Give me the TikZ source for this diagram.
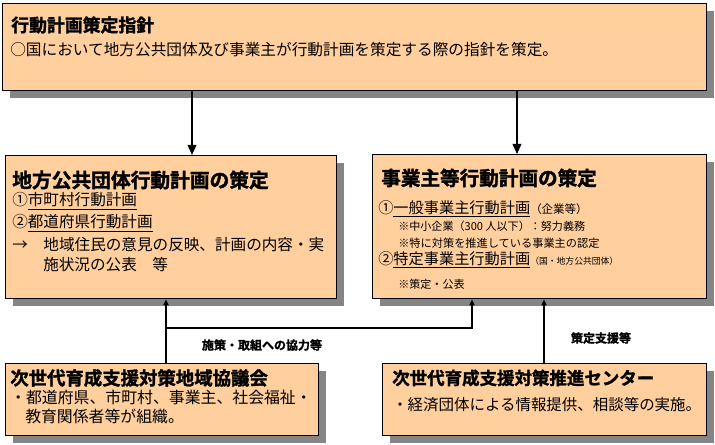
\documentclass[tikz,border=0pt]{standalone}
\usepackage{fontspec}
\setmainfont{Noto Sans CJK JP}[BoldFont={Noto Sans CJK JP Bold},
  BoldFeatures={FakeBold=1.5}]
\usepackage{tikz}
\usetikzlibrary{
  arrows.meta,
  shadows,
}
\definecolor{planFill}{HTML}{FFCF9E}
\definecolor{planShade}{HTML}{858585}
\tikzset{
  planbox/.style={
    rectangle, draw=black, line width=1.1pt, fill=planFill, inner sep=0pt,
    anchor=north west,
    drop shadow={shadow xshift=5.25pt, shadow yshift=-5.25pt,
      fill=planShade, opacity=1},
  },
  headTxt/.style={
    anchor=west, inner sep=0pt, font=\bfseries\fontsize{#1}{#1}\selectfont,
  },
  rowTxt/.style={
    anchor=west, inner sep=0pt, font=\fontsize{#1}{#1}\selectfont,
  },
  arrowBig/.style={
    -{Triangle[length=7.5pt,width=6.5pt]}, line width=1.1pt, draw=black,
  },
  arrowSm/.style={
    -{Triangle[length=4.5pt,width=4pt]}, line width=0.9pt, draw=black,
  },
  tagTxt/.style={
    inner sep=0pt, font=\bfseries\fontsize{9}{9}\selectfont,
  },
}

\begin{document}
\begin{tikzpicture}[x=0.75pt, y=-0.75pt]
\useasboundingbox (0,0) rectangle (715,445);

% boxes
\node[planbox, minimum width=528pt, minimum height=65.25pt] (guide) at (2,3) {};
\node[planbox, minimum width=248.25pt, minimum height=107.25pt] (localPlan) at (5,155) {};
\node[planbox, minimum width=250.5pt, minimum height=108pt] (firmPlan) at (372,154) {};
\node[planbox, minimum width=234.75pt, minimum height=54pt] (council) at (5,363) {};
\node[planbox, minimum width=243pt, minimum height=54pt] (center) at (382,363) {};

% texts
\node[headTxt=13.4] (guideT) at (11,25) {行動計画策定指針};
\node[rowTxt=11.75] (guideA) at (10,50)
  {○国において地方公共団体及び事業主が行動計画を策定する際の指針を策定。};

\node[headTxt=14.8] (localT) at (12,180) {地方公共団体行動計画の策定};
\node[rowTxt=11.7] (localA) at (12,201) {①\underline{市町村行動計画}};
\node[rowTxt=11.7] (localB) at (12,223) {②\underline{都道府県行動計画}};
\node[rowTxt=11.7] (localC) at (12,245)
  {\makebox[2em][l]{→}地域住民の意見の反映、計画の内容・実};
\node[rowTxt=11.7] (localD) at (43,265) {施状況の公表　等};

\node[headTxt=14.7] (firmT) at (381,178) {事業主等行動計画の策定};
\node[rowTxt=11.4] (firmA) at (378,209)
  {①\underline{一般事業主行動計画}{\fontsize{8.6}{8.6}\selectfont（企業等）}};
\node[rowTxt=8.3] (firmB) at (398,226) {※中小企業（300 人以下）：努力義務};
\node[rowTxt=8.4] (firmC) at (398,243) {※特に対策を推進している事業主の認定};
\node[rowTxt=11.4] (firmD) at (378,260)
  {②\underline{特定事業主行動計画}{\fontsize{6.6}{6.6}\selectfont（国・地方公共団体）}};
\node[rowTxt=8.3] (firmE) at (398,284) {※策定・公表};

\node[headTxt=13.8] (councilT) at (10,378) {次世代育成支援対策地域協議会};
\node[rowTxt=11.9] (councilA) at (10,397) {・都道府県、市町村、事業主、社会福祉・};
\node[rowTxt=11.9] (councilB) at (25,416) {教育関係者等が組織。};

\node[headTxt=13.1] (centerT) at (392,378) {次世代育成支援対策推進センター};
\node[rowTxt=11.6] (centerA) at (392,405) {・経済団体による情報提供、相談等の実施。};

% connectors
\coordinate (g1) at (192,0);
\coordinate (g2) at (517,0);
\draw[arrowBig] (guide.south -| g1) -- (localPlan.north -| g1);
\draw[arrowBig] (guide.south -| g2) -- (firmPlan.north -| g2);

\coordinate (j1) at (166,328);
\coordinate (j2) at (472,328);
\coordinate (j3) at (544,0);
\draw[arrowSm] (council.north -| j1) -- (localPlan.south -| j1);
\draw[arrowSm] (j1) -- (j2) -- (firmPlan.south -| j2);
\draw[arrowSm] (center.north -| j3) -- (firmPlan.south -| j3);

\node[tagTxt] (coopTag) at (262,345) {施策・取組への協力等};
\node[tagTxt] (helpTag) at (601,338) {策定支援等};
\end{tikzpicture}
\end{document}
